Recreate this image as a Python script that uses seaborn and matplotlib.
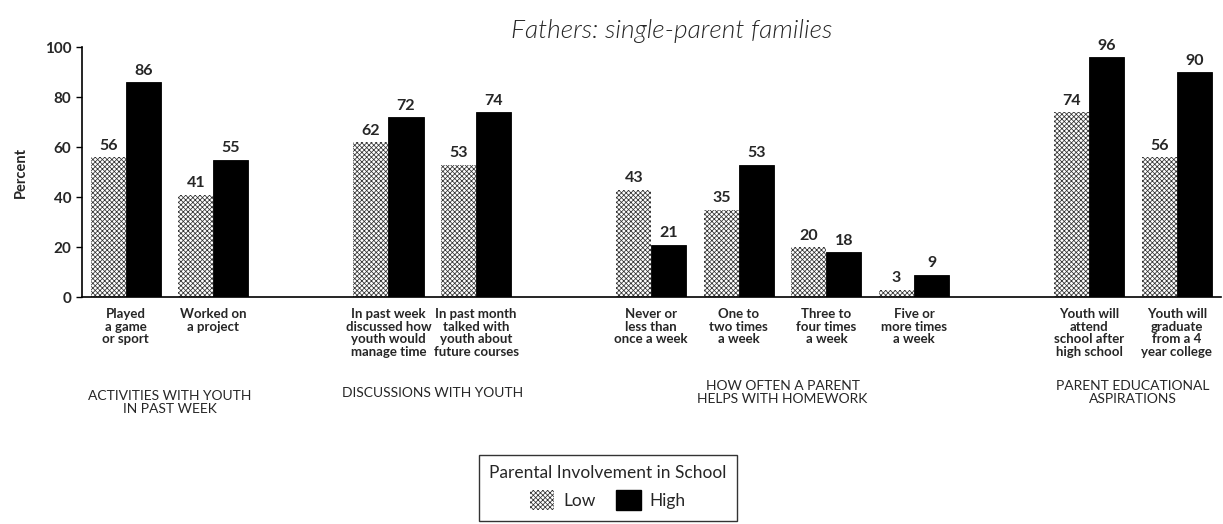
import pandas as pd
import numpy as np
import matplotlib
matplotlib.use("Agg")
import matplotlib.pyplot as plt
from matplotlib.patches import Patch
import seaborn as sns

# Datos
groups = ["ACTIVITIES WITH YOUTH\nIN PAST WEEK",
          "DISCUSSIONS WITH YOUTH",
          "HOW OFTEN A PARENT\nHELPS WITH HOMEWORK",
          "PARENT EDUCATIONAL\nASPIRATIONS"]
items = ["Played\na game\nor sport",
         "Worked on\na project",
         "In past week\ndiscussed how\nyouth would\nmanage time",
         "In past month\ntalked with\nyouth about\nfuture courses",
         "Never or\nless than\nonce a week",
         "One to\ntwo times\na week",
         "Three to\nfour times\na week",
         "Five or\nmore times\na week",
         "Youth will\nattend\nschool after\nhigh school",
         "Youth will\ngraduate\nfrom a 4\nyear college"]
item_group = [0, 0, 1, 1, 2, 2, 2, 2, 3, 3]
low = [56, 41, 62, 53, 43, 35, 20, 3, 74, 56]
high = [86, 55, 72, 74, 21, 53, 18, 9, 96, 90]
levels = ["Low", "High"]

# posiciones: un hueco vacío entre grupos
slots = []
pos = 0
for i, g in enumerate(item_group):
    if i > 0 and g != item_group[i - 1]:
        pos += 1
    slots.append(pos)
    pos += 1

df = pd.DataFrame({
    "slot": slots * 2,
    "value": low + high,
    "level": ["Low"] * len(low) + ["High"] * len(high),
})

sns.set_theme(style="white")
plt.rcParams["font.family"] = ["Lato", "DejaVu Sans"]
plt.rcParams["hatch.linewidth"] = 0.55

fig = plt.figure(figsize=(12.23, 5.24), dpi=100)
ax = fig.add_axes([0.067, 0.433, 0.931, 0.477])

sns.barplot(data=df, x="slot", y="value", hue="level", hue_order=levels,
            native_scale=True, palette={"Low": "white", "High": "black"},
            saturation=1, edgecolor="black", linewidth=0.6, width=0.8,
            errorbar=None, legend=False, ax=ax)

hatch = "xxxxxxx"
low_bars = ax.containers[0]
for p in low_bars:
    p.set_hatch(hatch)
    p.set_edgecolor("#333333")
    p.set_linewidth(0)

for c in ax.containers:
    ax.bar_label(c, padding=3, fontsize=11.5, fontweight="bold")

ax.set_xlim(-0.5, pos - 0.5)
ax.set_ylim(0, 100)
ax.set_yticks(range(0, 101, 20))
ax.set_xticks(slots, items, fontsize=9.5, fontweight="bold", linespacing=1.05)
ax.tick_params(axis="x", length=0, pad=8)
ax.tick_params(axis="y", length=4, width=1, direction="out", color="black",
               labelsize=11, left=True)
for lab in ax.get_yticklabels():
    lab.set_fontweight("bold")
ax.set_xlabel("")
ax.set_ylabel("Percent", fontsize=10.5, fontweight="bold", labelpad=12)
for s in ["top", "right"]:
    ax.spines[s].set_visible(False)
for s in ["left", "bottom"]:
    ax.spines[s].set_color("black")
    ax.spines[s].set_linewidth(1.2)

# etiquetas de los grupos
group_tops = [-0.37, -0.36, -0.33, -0.33]
for gi, label in enumerate(groups):
    xs = [s for s, g in zip(slots, item_group) if g == gi]
    ax.text(np.mean(xs), group_tops[gi], label, transform=ax.get_xaxis_transform(),
            ha="center", va="top", fontsize=10, linespacing=1.1)

fig.text(0.549, 0.94, "Fathers: single-parent families", fontsize=19,
         style="italic", fontweight=300, ha="center", va="center")

handles = [Patch(facecolor="white", edgecolor="#333333", hatch=hatch, linewidth=0),
           Patch(facecolor="black", edgecolor="black")]
leg = fig.legend(handles, levels, title="Parental Involvement in School",
                 loc="center", bbox_to_anchor=(0.497, 0.069), ncol=2,
                 frameon=True, fancybox=False, edgecolor="black",
                 handlelength=1.4, handleheight=1.4, columnspacing=1.2,
                 handletextpad=0.5, fontsize=12.5, title_fontsize=12.5,
                 borderpad=0.6)
leg.get_frame().set_linewidth(1.0)

fig.savefig("out.png", dpi=100)
